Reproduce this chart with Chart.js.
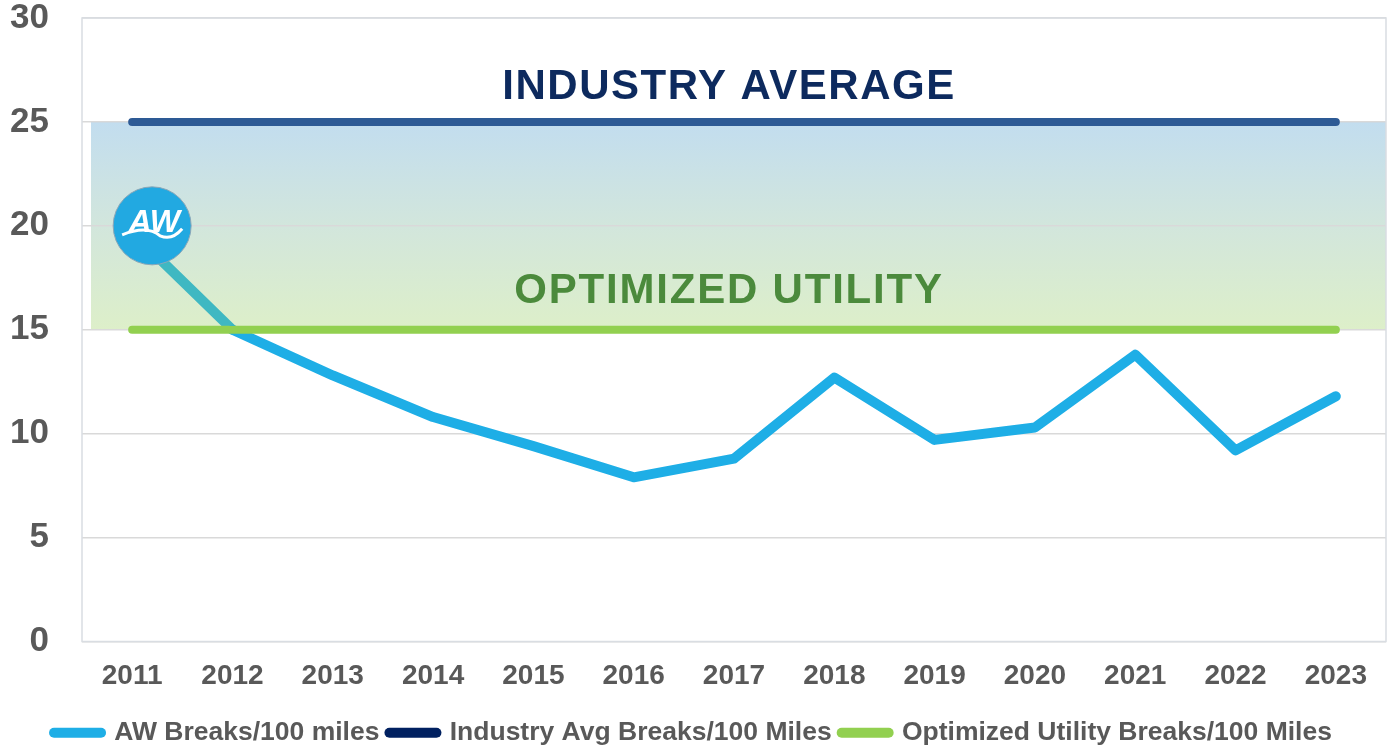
<!DOCTYPE html>
<html>
<head>
<meta charset="utf-8">
<script src="https://cdn.jsdelivr.net/npm/chart.js@4"></script>
<style>
  html, body { margin: 0; padding: 0; background: #fff; }
  #wrap { width: 1388px; height: 750px; }
</style>
</head>
<body>
<div id="wrap"><canvas id="chart" width="1388" height="750"></canvas></div>
<script>
// Chart data
const years = ['2011', '2012', '2013', '2014', '2015', '2016', '2017', '2018', '2019', '2020', '2021', '2022', '2023'];
const awBreaks = [19.7, 15, 12.8, 10.8, 9.4, 7.9, 8.8, 12.7, 9.7, 10.3, 13.8, 9.2, 11.8];
const industryAvg = [25, 25, 25, 25, 25, 25, 25, 25, 25, 25, 25, 25, 25];
const optimizedUtility = [15, 15, 15, 15, 15, 15, 15, 15, 15, 15, 15, 15, 15];
const yTicks = [0, 5, 10, 15, 20, 25, 30];
const bandRange = [15, 25];
const logoValue = 20;

const legendItems = [
  { text: 'AW Breaks/100 miles', color: '#1eaee6' },
  { text: 'Industry Avg Breaks/100 Miles', color: '#002060' },
  { text: 'Optimized Utility Breaks/100 Miles', color: '#92d050' }
];

const FONT = '"Liberation Sans", Arial, sans-serif';

// Shaded band between optimized utility and industry average
const bandPlugin = {
  id: 'band',
  beforeDraw(chart) {
    const { ctx, chartArea, scales } = chart;
    const yTop = scales.y.getPixelForValue(bandRange[1]);
    const yBot = scales.y.getPixelForValue(bandRange[0]);
    const grad = ctx.createLinearGradient(0, yTop, 0, yBot);
    grad.addColorStop(0, '#c2ddef');
    grad.addColorStop(0.5, '#d2e6dc');
    grad.addColorStop(1, '#ddefc9');
    ctx.save();
    ctx.fillStyle = grad;
    ctx.fillRect(chartArea.left + 9, yTop, chartArea.right - chartArea.left - 9, yBot - yTop);
    ctx.strokeStyle = '#b7d6ee';
    ctx.lineWidth = 1.5;
    ctx.beginPath();
    ctx.moveTo(chartArea.left + 9, yTop);
    ctx.lineTo(chartArea.right, yTop);
    ctx.stroke();
    ctx.restore();
  },
  beforeDatasetsDraw(chart) {
    const { ctx, chartArea } = chart;
    ctx.save();
    ctx.strokeStyle = '#d9dde2';
    ctx.lineWidth = 1.5;
    ctx.strokeRect(chartArea.left, chartArea.top, chartArea.right - chartArea.left, chartArea.bottom - chartArea.top);
    ctx.restore();
  }
};

// Labels inside the plot and the AW logo
const annotationPlugin = {
  id: 'annotations',
  afterDatasetsDraw(chart) {
    const { ctx, chartArea, scales } = chart;
    const cx = (chartArea.left + chartArea.right) / 2 - 5;
    ctx.save();
    ctx.textAlign = 'center';
    ctx.textBaseline = 'middle';
    ctx.font = 'bold 42px ' + FONT;
    ctx.letterSpacing = '1.5px';
    ctx.fillStyle = '#0d2a5e';
    ctx.fillText('INDUSTRY AVERAGE', cx, scales.y.getPixelForValue(26.65));
    ctx.letterSpacing = '1.8px';
    ctx.fillStyle = '#4b8a3c';
    ctx.fillText('OPTIMIZED UTILITY', cx, scales.y.getPixelForValue(16.83));
    ctx.letterSpacing = '0px';

    // logo
    const lx = scales.x.getPixelForValue(0) + 20;
    const ly = scales.y.getPixelForValue(logoValue);
    ctx.beginPath();
    ctx.arc(lx, ly, 39, 0, Math.PI * 2);
    ctx.fillStyle = '#22a9e1';
    ctx.fill();
    ctx.strokeStyle = '#8aa7b8';
    ctx.lineWidth = 1;
    ctx.stroke();
    ctx.fillStyle = '#ffffff';
    ctx.font = 'italic bold 32px ' + FONT;
    ctx.fillText('AW', lx + 2, ly - 3);
    ctx.beginPath();
    ctx.moveTo(lx - 30, ly + 9);
    ctx.quadraticCurveTo(lx - 5, ly - 1, lx + 8, ly + 10);
    ctx.quadraticCurveTo(lx + 20, ly + 15, lx + 30, ly + 3);
    ctx.strokeStyle = '#ffffff';
    ctx.lineWidth = 3;
    ctx.stroke();
    ctx.restore();
  }
};

const ctx = document.getElementById('chart').getContext('2d');
new Chart(ctx, {
  type: 'line',
  data: {
    labels: years,
    datasets: [
      {
        label: legendItems[0].text,
        data: awBreaks,
        borderColor: '#1eaee6',
        borderWidth: 10,
        borderJoinStyle: 'round',
        borderCapStyle: 'round',
        pointRadius: 0,
        tension: 0,
        order: 2,
        segment: {
          borderColor: c => c.p0DataIndex === 0 ? '#3fb8c2' : '#1eaee6'
        }
      },
      {
        label: legendItems[1].text,
        data: industryAvg,
        borderColor: '#2d5a95',
        borderWidth: 8,
        borderCapStyle: 'round',
        pointRadius: 0,
        order: 1
      },
      {
        label: legendItems[2].text,
        data: optimizedUtility,
        borderColor: '#92d050',
        borderWidth: 8,
        borderCapStyle: 'round',
        pointRadius: 0,
        order: 0
      }
    ]
  },
  options: {
    responsive: false,
    animation: false,
    layout: { padding: { top: 18, right: 2, left: 0, bottom: -6 } },
    plugins: {
      tooltip: { enabled: false },
      legend: {
        position: 'bottom',
        labels: {
          usePointStyle: true,
          pointStyle: 'line',
          pointStyleWidth: 47,
          padding: 10,
          color: '#595959',
          font: { family: FONT, size: 26.5, weight: 'bold' },
          generateLabels: () => legendItems.map((it, i) => ({
            text: it.text,
            strokeStyle: it.color,
            fillStyle: it.color,
            fontColor: '#595959',
            lineWidth: 10,
            lineCap: 'round',
            pointStyle: 'line',
            datasetIndex: i
          }))
        }
      }
    },
    scales: {
      x: {
        offset: true,
        afterFit(scale) { scale.height = 68; },
        grid: { display: false, drawTicks: false },
        border: { display: false },
        ticks: {
          color: '#595959',
          padding: 18,
          font: { family: FONT, size: 28, weight: 'bold' }
        }
      },
      y: {
        min: 0,
        max: 30,
        afterFit(scale) { scale.width = 82; scale.paddingTop = 0; scale.paddingBottom = 0; },
        afterBuildTicks(scale) { scale.ticks = yTicks.map(v => ({ value: v })); },
        grid: { color: '#d9d9d9', lineWidth: 1.5, drawTicks: false },
        border: { display: false },
        ticks: {
          color: '#595959',
          padding: 33,
          font: { family: FONT, size: 35, weight: 'bold' }
        }
      }
    }
  },
  plugins: [bandPlugin, annotationPlugin]
});
</script>
</body>
</html>
